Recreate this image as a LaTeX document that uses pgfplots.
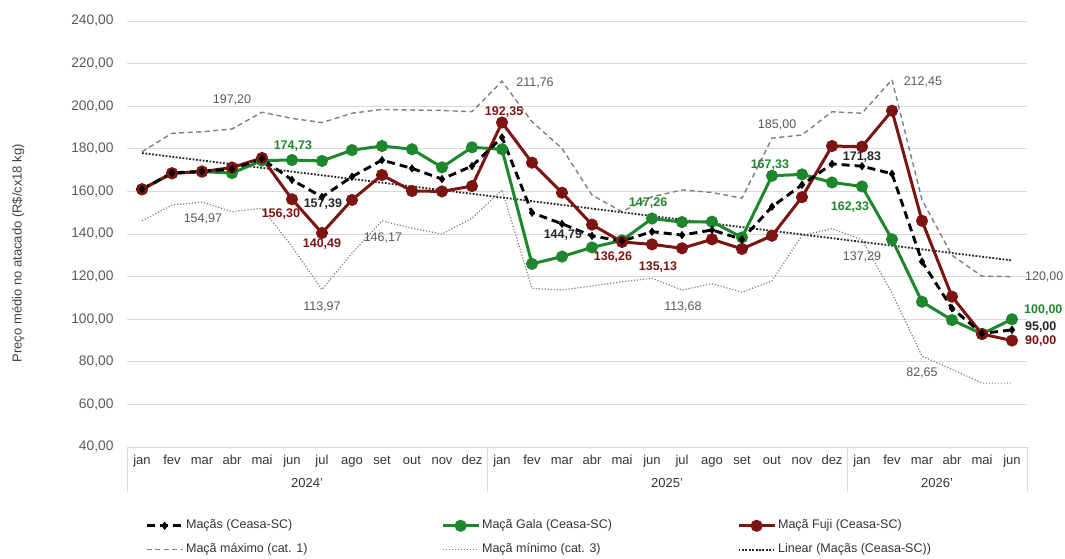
\documentclass[border=0pt]{standalone}
\usepackage{fontspec}
\setmainfont{Liberation Sans}
\usepackage{pgfplots}
\usepackage{pgfplotstable}
\pgfplotsset{compat=1.18}
\definecolor{gala}{RGB}{30,135,45}
\definecolor{fuji}{RGB}{125,20,20}
\definecolor{lblgray}{RGB}{89,89,89}
\definecolor{gridc}{RGB}{217,217,217}
\definecolor{maxc}{RGB}{128,128,128}
\pgfplotstableread{
x macas gala fuji max min
0 161.0 161.0 161.0 178.6 146.2
1 168.7 168.5 168.5 187.3 153.6
2 169.4 169.3 169.3 188.0 154.97
3 170.5 168.6 171.2 189.3 150.5
4 175.3 174.5 175.7 197.20 152.1
5 165.4 174.73 156.30 194.3 134.1
6 157.39 174.3 140.49 192.3 113.97
7 166.9 179.4 156.0 196.7 131.0
8 174.7 181.3 167.7 198.5 146.17
9 170.8 179.8 160.2 198.2 142.7
10 165.8 171.3 160.0 198.0 140.0
11 171.9 180.7 162.5 197.4 147.4
12 185.4 179.8 192.35 211.76 160.7
13 150.0 126.0 173.5 192.7 114.5
14 144.79 129.4 159.4 180.2 113.7
15 139.1 133.7 144.4 158.3 115.6
16 136.7 137.0 136.26 150.5 117.6
17 141.1 147.26 135.13 157.5 119.2
18 139.5 145.6 133.3 160.7 113.68
19 141.9 145.8 137.5 159.5 116.7
20 137.5 138.4 133.0 156.8 112.7
21 152.8 167.33 139.2 185.00 118.0
22 163.1 168.0 157.3 186.5 139.3
23 172.9 164.2 181.3 197.4 142.5
24 171.83 162.33 181.0 196.7 137.29
25 168.3 137.5 197.9 212.45 112.3
26 127.0 108.2 146.2 156.0 82.65
27 105.1 99.6 110.6 130.0 76.5
28 93.3 93.1 93.0 120.2 70.0
29 95.00 100.00 90.00 120.00 70.0
}\data
\pgfplotstableread{
x trend
0 178.0
29 127.6
}\trend
\begin{document}
\begin{tikzpicture}
\path[use as bounding box] (0,0) rectangle (1065pt,-558pt);
\begin{axis}[
  at={(127pt,-447pt)}, anchor=south west,
  scale only axis, width=900pt, height=426pt,
  xmin=-0.5, xmax=29.5, ymin=40, ymax=240,
  clip=false,
  font=\fontsize{12.5}{15}\selectfont,
  axis line style={draw=none},
  major tick length=0pt,
  ytick={40,60,...,240},
  ymajorgrids, major grid style={draw=gridc, line width=0.8pt},
  yticklabel style={/pgf/number format/fixed, /pgf/number format/fixed zerofill, /pgf/number format/precision=2, /pgf/number format/use comma, /pgf/number format/1000 sep={}, /pgf/number format/assume math mode=true},
  yticklabel style={text=lblgray, xshift=-10pt, font=\fontsize{13.8}{15}\selectfont},
  xtick={0,...,29},
  xticklabels={jan,fev,mar,abr,mai,jun,jul,ago,set,out,nov,dez,jan,fev,mar,abr,mai,jun,jul,ago,set,out,nov,dez,jan,fev,mar,abr,mai,jun},
  xticklabel style={text=black!80, text height=9pt, text depth=3pt, yshift=-5pt, font=\fontsize{13}{15}\selectfont},
  ylabel={Preço médio no atacado (R\$/cx18 kg)},
  ylabel style={at={(axis description cs:-0.121,0.455)}, anchor=center, text=black!75, font=\fontsize{13}{15}\selectfont},
  legend columns=3,
  legend cell align=left,
  legend image code/.code={\draw[mark repeat=2,mark phase=2,#1] plot coordinates {(0pt,0pt) (18pt,0pt) (36pt,0pt)};},
  legend style={at={(axis description cs:0.0167,-0.161)}, anchor=north west, draw=none, fill=none,
    inner xsep=3pt, inner ysep=2pt, row sep=8pt, column sep=0pt,
    nodes={inner sep=2pt, text height=9pt, text depth=3pt, text=black!80},
    font=\fontsize{12.5}{15}\selectfont},
]
% category box
\draw[gridc, line width=0.8pt] (axis cs:-0.5,40) -- (axis cs:29.5,40);
\draw[gridc, line width=0.8pt] (axis cs:-0.5,40) -- (axis cs:-0.5,18.9);
\draw[gridc, line width=0.8pt] (axis cs:11.5,40) -- (axis cs:11.5,18.9);
\draw[gridc, line width=0.8pt] (axis cs:23.5,40) -- (axis cs:23.5,18.9);
\draw[gridc, line width=0.8pt] (axis cs:29.5,40) -- (axis cs:29.5,18.9);
\node[anchor=base, text=black!80, font=\fontsize{13}{15}\selectfont] at (axis cs:5.5,21.2) {2024'};
\node[anchor=base, text=black!80, font=\fontsize{13}{15}\selectfont] at (axis cs:17.5,21.2) {2025'};
\node[anchor=base, text=black!80, font=\fontsize{13}{15}\selectfont] at (axis cs:26.5,21.2) {2026'};

\addplot[forget plot, maxc, line width=1.4pt, dash pattern=on 5pt off 3.5pt] table[x=x,y=max] {\data};
\addplot[forget plot, maxc, line width=1.2pt, dash pattern=on 1.2pt off 1.8pt] table[x=x,y=min] {\data};
\addplot[forget plot, black!85, line width=1.8pt, dash pattern=on 1.8pt off 1.6pt] table[x=x,y=trend] {\trend};
\addplot[forget plot, gala, line width=3pt, mark=*, mark size=4.5pt, mark options={solid}] table[x=x,y=gala] {\data};
\addplot[forget plot, fuji, line width=3pt, mark=*, mark size=4.5pt, mark options={solid}] table[x=x,y=fuji] {\data};
\addplot[forget plot, black, line width=2.9pt, dash pattern=on 8pt off 5pt, mark=diamond*, mark size=3.8pt, mark options={solid, line width=0.5pt}] table[x=x,y=macas] {\data};

\addlegendimage{black, line width=2.9pt, dash pattern=on 8pt off 5pt, mark=diamond*, mark size=3.8pt, mark options={solid, line width=0.5pt}}
\addlegendentry{\makebox[253pt][l]{Maçãs (Ceasa-SC)}}
\addlegendimage{gala, line width=3pt, mark=*, mark size=4.5pt, mark options={solid}}
\addlegendentry{\makebox[253pt][l]{Maçã Gala (Ceasa-SC)}}
\addlegendimage{fuji, line width=3pt, mark=*, mark size=4.5pt, mark options={solid}}
\addlegendentry{\makebox[253pt][l]{Maçã Fuji (Ceasa-SC)}}
\addlegendimage{maxc, line width=1.4pt, dash pattern=on 5pt off 3.5pt}
\addlegendentry{\makebox[253pt][l]{Maçã máximo (cat. 1)}}
\addlegendimage{maxc, line width=1.2pt, dash pattern=on 1.2pt off 1.8pt}
\addlegendentry{\makebox[253pt][l]{Maçã mínimo (cat. 3)}}
\addlegendimage{black!85, line width=1.8pt, dash pattern=on 1.8pt off 1.6pt}
\addlegendentry{\makebox[253pt][l]{Linear (Maçãs (Ceasa-SC))}}

% data labels
\tikzset{gl/.style={text=lblgray, inner sep=0pt}, gb/.style={text=gala, font=\fontsize{12.5}{15}\selectfont\bfseries, inner sep=0pt},
  rb/.style={text=fuji, font=\fontsize{12.5}{15}\selectfont\bfseries, inner sep=0pt}, kb/.style={text=black!85, font=\fontsize{12.5}{15}\selectfont\bfseries, inner sep=0pt}}
\node[gl] at (axis cs:3.0,202.9) {197,20};
\node[gb] at (axis cs:5.03,181.3) {174,73};
\node[kb] at (axis cs:6.03,154.1) {157,39};
\node[rb] at (axis cs:4.63,149.4) {156,30};
\node[rb] at (axis cs:6.0,135.3) {140,49};
\node[gl] at (axis cs:2.03,147.0) {154,97};
\node[gl] at (axis cs:6.0,105.7) {113,97};
\node[gl] at (axis cs:8.03,138.1) {146,17};
\node[rb] at (axis cs:12.07,197.3) {192,35};
\node[gl] at (axis cs:13.1,210.9) {211,76};
\node[kb] at (axis cs:14.03,139.5) {144,79};
\node[rb] at (axis cs:15.7,129.2) {136,26};
\node[rb] at (axis cs:17.2,124.5) {135,13};
\node[gb] at (axis cs:16.87,154.6) {147,26};
\node[gl] at (axis cs:18.03,105.7) {113,68};
\node[gb] at (axis cs:20.93,172.4) {167,33};
\node[gl] at (axis cs:21.17,191.2) {185,00};
\node[kb] at (axis cs:24.0,176.2) {171,83};
\node[gb] at (axis cs:23.6,152.7) {162,33};
\node[gl] at (axis cs:24.0,129.2) {137,29};
\node[gl] at (axis cs:26.03,211.4) {212,45};
\node[gl] at (axis cs:26.0,74.7) {82,65};
\node[gl, anchor=west] at (axis cs:29.43,119.8) {120,00};
\node[gb, anchor=west] at (axis cs:29.4,104.3) {100,00};
\node[kb, anchor=west] at (axis cs:29.43,96.3) {95,00};
\node[rb, anchor=west] at (axis cs:29.43,89.8) {90,00};
\end{axis}
\end{tikzpicture}
\end{document}
